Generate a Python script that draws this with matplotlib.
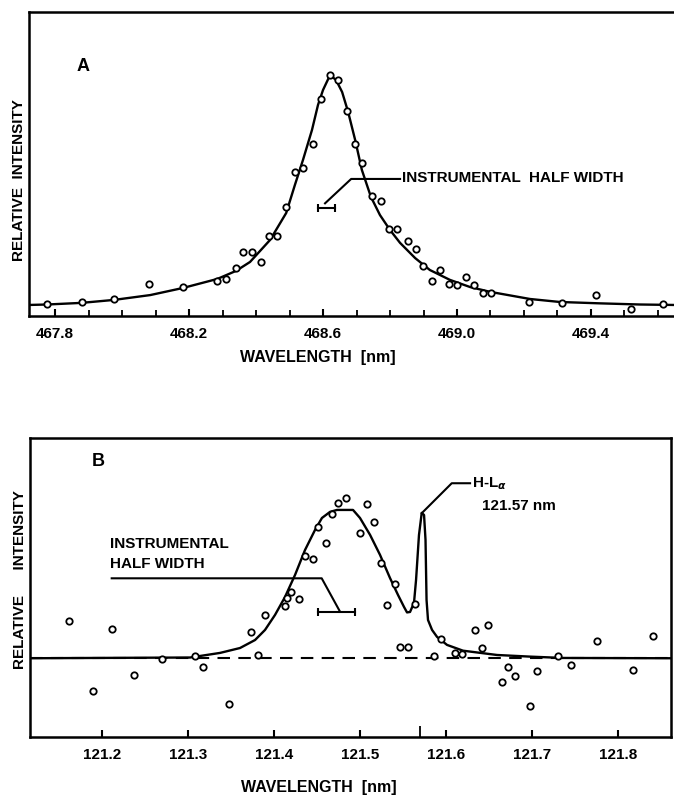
import matplotlib
matplotlib.use("Agg")
import matplotlib.pyplot as plt
from matplotlib.ticker import MultipleLocator, FixedLocator

plt.rcParams['font.family'] = ['Liberation Sans', 'DejaVu Sans']
plt.rcParams['font.weight'] = 'bold'
plt.rcParams['axes.labelweight'] = 'bold'
plt.rcParams['mathtext.fontset'] = 'dejavusans'

# ---- panel A: 468.6 nm line ----
a_wl = [467.775, 467.880, 467.976, 468.080, 468.181, 468.284, 468.310, 468.339,
        468.362, 468.388, 468.414, 468.440, 468.462, 468.490, 468.516, 468.541,
        468.569, 468.595, 468.621, 468.645, 468.673, 468.696, 468.717, 468.745,
        468.772, 468.798, 468.822, 468.853, 468.877, 468.899, 468.924, 468.949,
        468.976, 469.001, 469.026, 469.051, 469.077, 469.102, 469.214, 469.314,
        469.414, 469.519, 469.616]
a_int = [0.004, 0.012, 0.025, 0.091, 0.080, 0.104, 0.112, 0.160,
         0.229, 0.232, 0.188, 0.301, 0.300, 0.425, 0.580, 0.594,
         0.700, 0.897, 1.001, 0.978, 0.845, 0.700, 0.619, 0.474,
         0.453, 0.329, 0.329, 0.280, 0.242, 0.170, 0.104, 0.152,
         0.091, 0.087, 0.120, 0.087, 0.053, 0.053, 0.014, 0.010,
         0.043, -0.019, 0.004]

a_fit_wl = [467.722, 467.776, 467.878, 467.976, 468.084, 468.182, 468.284, 468.340,
            468.382, 468.442, 468.490, 468.516, 468.540, 468.567, 468.585, 468.600,
            468.621, 468.639, 468.657, 468.675, 468.696, 468.716, 468.743, 468.770,
            468.800, 468.830, 468.875, 468.919, 468.979, 469.039, 469.099, 469.218,
            469.307, 469.427, 469.546, 469.648]
a_fit_int = [0.0, 0.002, 0.009, 0.022, 0.043, 0.074, 0.113, 0.148,
             0.187, 0.283, 0.400, 0.522, 0.630, 0.761, 0.870, 0.935,
             1.000, 0.978, 0.926, 0.839, 0.717, 0.587, 0.470, 0.391,
             0.326, 0.270, 0.204, 0.152, 0.109, 0.078, 0.057, 0.026,
             0.013, 0.007, 0.002, 0.0]

a_hw_bar = [468.586, 468.636]
a_hw_y = 0.420
a_leader_x = [468.606, 468.684, 468.830]
a_leader_y = [0.442, 0.548, 0.548]
a_ticks = [467.8, 468.2, 468.6, 469.0, 469.4]

# ---- panel B: H-L alpha region ----
b_wl = [121.1623, 121.2116, 121.1902, 121.2379, 121.2705, 121.3085, 121.3181, 121.3484,
        121.3733, 121.3814, 121.3899, 121.4131, 121.4151, 121.4201, 121.4294, 121.4364,
        121.4453, 121.4519, 121.4608, 121.4681, 121.4744, 121.4837, 121.5081, 121.5003,
        121.5170, 121.5244, 121.5410, 121.5321, 121.5469, 121.5558, 121.5643, 121.5867,
        121.5945, 121.6108, 121.6186, 121.6341, 121.6488, 121.6426, 121.6728, 121.6658,
        121.6806, 121.6980, 121.7058, 121.7309, 121.7453, 121.7756, 121.8174, 121.8407]
b_int = [0.254, 0.198, -0.218, -0.113, -0.003, 0.018, -0.057, -0.308,
         0.175, 0.022, 0.290, 0.355, 0.405, 0.449, 0.398, 0.692,
         0.668, 0.883, 0.775, 0.971, 1.045, 1.083, 1.040, 0.847,
         0.921, 0.645, 0.501, 0.359, 0.074, 0.078, 0.366, 0.016,
         0.128, 0.038, 0.029, 0.191, 0.225, 0.071, -0.057, -0.158,
         -0.119, -0.320, -0.084, 0.016, -0.045, 0.117, -0.079, 0.150]

b_fit_wl = [121.1166, 121.3027, 121.3376, 121.3608, 121.3783, 121.3899, 121.4015, 121.4131,
            121.4248, 121.4364, 121.4480, 121.4561, 121.4655, 121.4736, 121.4922, 121.5003,
            121.5120, 121.5236, 121.5352, 121.5445, 121.5515, 121.5550, 121.5585, 121.5631,
            121.5655, 121.5689, 121.5721, 121.5748, 121.5765, 121.5777, 121.5794, 121.5841,
            121.5899, 121.6015, 121.6201, 121.6597, 121.6980, 121.7364, 121.8616]
b_fit_int = [0.0, 0.005, 0.036, 0.069, 0.123, 0.191, 0.292, 0.413,
             0.562, 0.730, 0.865, 0.946, 0.987, 1.0, 1.0, 0.946,
             0.832, 0.697, 0.541, 0.427, 0.346, 0.309, 0.312, 0.373,
             0.528, 0.831, 0.980, 0.966, 0.798, 0.393, 0.258, 0.191,
             0.144, 0.090, 0.051, 0.022, 0.011, 0.002, 0.0]

b_hw_bar = [121.4519, 121.4945]
b_hw_y = 0.309
b_leader_x = [121.2116, 121.4558, 121.4771]
b_leader_y = [0.539, 0.539, 0.314]
hla_x = [121.5721, 121.6070, 121.6283]
hla_y = [0.978, 1.180, 1.180]
b_ticks = [121.2, 121.3, 121.4, 121.5, 121.6, 121.7, 121.8]

fig = plt.figure(figsize=(6.74, 7.95), dpi=100)
axA = fig.add_axes([29 / 674, 1 - 316 / 795, 645 / 674, 304 / 795])
axB = fig.add_axes([30 / 674, 1 - 737.3 / 795, 640.7 / 674, 299 / 795])

fs = 11
mk = dict(ls='none', marker='o', ms=4.6, mfc='white', mec='black', mew=1.3, zorder=4)

# panel A
axA.plot(a_fit_wl, a_fit_int, color='black', lw=1.7, zorder=3)
axA.plot(a_wl, a_int, **mk)
axA.plot(a_hw_bar, [a_hw_y, a_hw_y], color='black', lw=1.5, marker='|', ms=6, mew=1.5)
axA.plot(a_leader_x, a_leader_y, color='black', lw=1.5)
axA.text(468.835, 0.551, 'INSTRUMENTAL  HALF WIDTH', fontsize=fs, va='center', ha='left')
axA.text(467.884, 1.035, 'A', fontsize=13, va='center', ha='center')
axA.set_xlim(467.722, 469.648)
axA.set_ylim(-0.048, 1.274)
axA.xaxis.set_major_locator(FixedLocator(a_ticks))
axA.xaxis.set_minor_locator(MultipleLocator(0.1))
axA.set_xticklabels(['%.1f' % t for t in a_ticks])
axA.set_yticks([])
axA.spines['right'].set_visible(False)
axA.set_xlabel('WAVELENGTH  [nm]', fontsize=fs + 0.5)
axA.xaxis.set_label_coords(0.447, -0.135)
axA.xaxis.label.set_va('center')
axA.set_ylabel('RELATIVE  INTENSITY', fontsize=fs)
axA.yaxis.set_label_coords(-0.016, 0.447)
axA.yaxis.label.set_va('center')

# panel B
axB.axhline(0, color='black', lw=1.5, ls=(0, (6, 4)), zorder=2)
axB.plot(b_fit_wl, b_fit_int, color='black', lw=1.7, zorder=3)
axB.plot(b_wl, b_int, **mk)
axB.plot(b_hw_bar, [b_hw_y, b_hw_y], color='black', lw=1.5, marker='|', ms=6, mew=1.5)
axB.plot(b_leader_x, b_leader_y, color='black', lw=1.5)
axB.plot(hla_x, hla_y, color='black', lw=1.5)
axB.text(121.6302, 1.180, r'H-L$_{\alpha}$', fontsize=fs, va='center', ha='left')
axB.text(121.6419, 1.027, '121.57 nm', fontsize=fs, va='center', ha='left')
axB.text(121.2097, 0.705, 'INSTRUMENTAL\nHALF WIDTH', fontsize=fs, va='center', ha='left',
         linespacing=1.55)
axB.text(121.1957, 1.326, 'B', fontsize=13, va='center', ha='center')
axB.set_xlim(121.1166, 121.8616)
axB.set_ylim(-0.533, 1.483)
axB.xaxis.set_major_locator(FixedLocator(b_ticks))
axB.xaxis.set_minor_locator(FixedLocator([121.57]))
axB.set_xticklabels(['%.1f' % t for t in b_ticks])
axB.set_yticks([])
axB.set_xlabel('WAVELENGTH  [nm]', fontsize=fs + 0.5)
axB.xaxis.set_label_coords(0.451, -0.168)
axB.xaxis.label.set_va('center')
axB.set_ylabel('RELATIVE      INTENSITY', fontsize=fs)
axB.yaxis.set_label_coords(-0.016, 0.529)
axB.yaxis.label.set_va('center')

for ax in (axA, axB):
    for s in ax.spines.values():
        s.set_linewidth(1.8)
    ax.tick_params(axis='x', which='major', direction='in', length=5, width=1.5,
                   labelsize=fs, pad=8)
    ax.tick_params(axis='x', which='minor', direction='in', length=4, width=1.3)
axB.tick_params(axis='x', which='minor', length=8)

fig.savefig('out.png', dpi=100)
plt.close(fig)
